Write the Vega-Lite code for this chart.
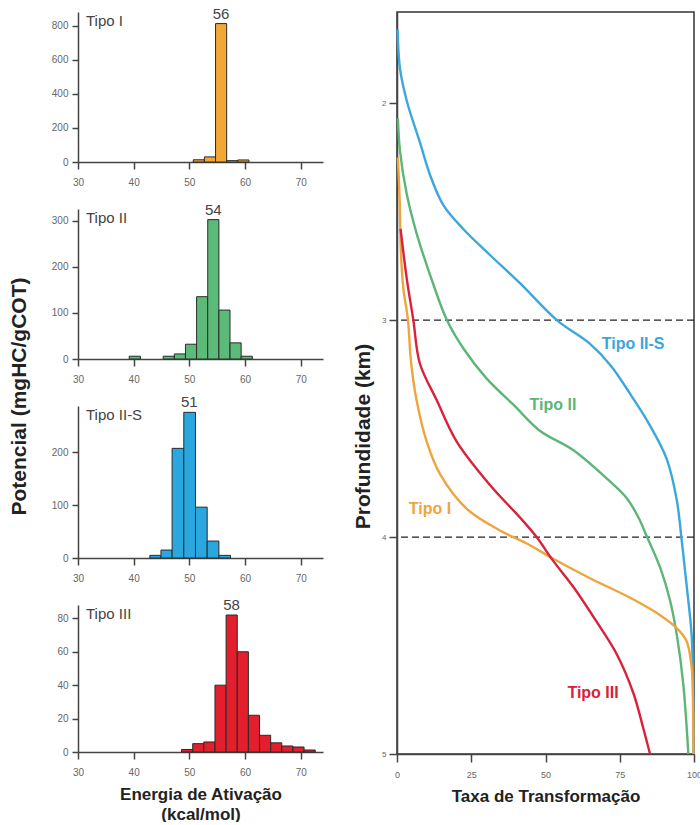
{
  "$schema": "https://vega.github.io/schema/vega-lite/v6.json",
  "padding": {"left": 7, "top": 6, "right": 0, "bottom": 0},
  "background": "white",
  "config": {
    "font": "Liberation Sans",
    "view": {"stroke": null},
    "axis": {
      "grid": false,
      "labelFont": "Liberation Sans",
      "labelColor": "#666",
      "labelFontSize": 10,
      "labelFlush": false,
      "labelOverlap": false,
      "domainColor": "#444",
      "tickColor": "#444",
      "domainWidth": 1.5,
      "tickWidth": 1.5,
      "titleFont": "Liberation Sans",
      "titleFontWeight": "bold",
      "titleColor": "#222"
    }
  },
  "datasets": {
    "hist": [
      {"tipo": "Tipo I", "lo": 50.7, "hi": 52.7, "v": 13},
      {"tipo": "Tipo I", "lo": 52.7, "hi": 54.7, "v": 30},
      {"tipo": "Tipo I", "lo": 54.7, "hi": 56.7, "v": 812, "peak": "56"},
      {"tipo": "Tipo I", "lo": 56.7, "hi": 58.7, "v": 8},
      {"tipo": "Tipo I", "lo": 58.7, "hi": 60.7, "v": 12},
      {"tipo": "Tipo II", "lo": 39.2, "hi": 41.2, "v": 6},
      {"tipo": "Tipo II", "lo": 45.3, "hi": 47.3, "v": 6},
      {"tipo": "Tipo II", "lo": 47.3, "hi": 49.3, "v": 11},
      {"tipo": "Tipo II", "lo": 49.3, "hi": 51.3, "v": 32},
      {"tipo": "Tipo II", "lo": 51.3, "hi": 53.3, "v": 135},
      {"tipo": "Tipo II", "lo": 53.3, "hi": 55.3, "v": 302, "peak": "54"},
      {"tipo": "Tipo II", "lo": 55.3, "hi": 57.3, "v": 106},
      {"tipo": "Tipo II", "lo": 57.3, "hi": 59.3, "v": 35},
      {"tipo": "Tipo II", "lo": 59.3, "hi": 61.3, "v": 6},
      {"tipo": "Tipo II-S", "lo": 42.9, "hi": 44.9, "v": 5},
      {"tipo": "Tipo II-S", "lo": 44.9, "hi": 46.9, "v": 15},
      {"tipo": "Tipo II-S", "lo": 46.9, "hi": 49.0, "v": 207},
      {"tipo": "Tipo II-S", "lo": 49.0, "hi": 51.1, "v": 275, "peak": "51"},
      {"tipo": "Tipo II-S", "lo": 51.1, "hi": 53.2, "v": 96},
      {"tipo": "Tipo II-S", "lo": 53.2, "hi": 55.3, "v": 32},
      {"tipo": "Tipo II-S", "lo": 55.3, "hi": 57.4, "v": 5},
      {"tipo": "Tipo III", "lo": 48.6, "hi": 50.6, "v": 1.5},
      {"tipo": "Tipo III", "lo": 50.6, "hi": 52.6, "v": 5},
      {"tipo": "Tipo III", "lo": 52.6, "hi": 54.6, "v": 6},
      {"tipo": "Tipo III", "lo": 54.6, "hi": 56.6, "v": 40},
      {"tipo": "Tipo III", "lo": 56.6, "hi": 58.6, "v": 82, "peak": "58"},
      {"tipo": "Tipo III", "lo": 58.6, "hi": 60.6, "v": 60},
      {"tipo": "Tipo III", "lo": 60.6, "hi": 62.6, "v": 22},
      {"tipo": "Tipo III", "lo": 62.6, "hi": 64.6, "v": 10},
      {"tipo": "Tipo III", "lo": 64.6, "hi": 66.6, "v": 5.5},
      {"tipo": "Tipo III", "lo": 66.6, "hi": 68.6, "v": 3.6},
      {"tipo": "Tipo III", "lo": 68.6, "hi": 70.6, "v": 3},
      {"tipo": "Tipo III", "lo": 70.6, "hi": 72.6, "v": 1.2}
    ],
    "curves": [
      {"tipo": "Tipo II-S", "x": 0.2, "d": 1.66},
      {"tipo": "Tipo II-S", "x": 1.0, "d": 1.84},
      {"tipo": "Tipo II-S", "x": 3.3, "d": 1.99},
      {"tipo": "Tipo II-S", "x": 7.7, "d": 2.18},
      {"tipo": "Tipo II-S", "x": 11.1, "d": 2.33},
      {"tipo": "Tipo II-S", "x": 15.6, "d": 2.47},
      {"tipo": "Tipo II-S", "x": 22.3, "d": 2.58},
      {"tipo": "Tipo II-S", "x": 31.3, "d": 2.70},
      {"tipo": "Tipo II-S", "x": 41.4, "d": 2.83},
      {"tipo": "Tipo II-S", "x": 53.8, "d": 3.00},
      {"tipo": "Tipo II-S", "x": 65.0, "d": 3.11},
      {"tipo": "Tipo II-S", "x": 72.0, "d": 3.21},
      {"tipo": "Tipo II-S", "x": 78.5, "d": 3.34},
      {"tipo": "Tipo II-S", "x": 84.5, "d": 3.47},
      {"tipo": "Tipo II-S", "x": 90.8, "d": 3.64},
      {"tipo": "Tipo II-S", "x": 94.2, "d": 3.83},
      {"tipo": "Tipo II-S", "x": 95.9, "d": 4.02},
      {"tipo": "Tipo II-S", "x": 97.5, "d": 4.22},
      {"tipo": "Tipo II-S", "x": 99.2, "d": 4.45},
      {"tipo": "Tipo II-S", "x": 99.7, "d": 4.70},
      {"tipo": "Tipo II-S", "x": 99.8, "d": 5.00},
      {"tipo": "Tipo II", "x": 0.3, "d": 2.07},
      {"tipo": "Tipo II", "x": 1.0, "d": 2.22},
      {"tipo": "Tipo II", "x": 3.3, "d": 2.42},
      {"tipo": "Tipo II", "x": 6.6, "d": 2.60},
      {"tipo": "Tipo II", "x": 11.1, "d": 2.79},
      {"tipo": "Tipo II", "x": 16.8, "d": 3.00},
      {"tipo": "Tipo II", "x": 22.3, "d": 3.13},
      {"tipo": "Tipo II", "x": 30.2, "d": 3.27},
      {"tipo": "Tipo II", "x": 39.2, "d": 3.39},
      {"tipo": "Tipo II", "x": 48.1, "d": 3.51},
      {"tipo": "Tipo II", "x": 59.4, "d": 3.60},
      {"tipo": "Tipo II", "x": 70.6, "d": 3.73},
      {"tipo": "Tipo II", "x": 77.3, "d": 3.82},
      {"tipo": "Tipo II", "x": 81.3, "d": 3.91},
      {"tipo": "Tipo II", "x": 84.2, "d": 4.00},
      {"tipo": "Tipo II", "x": 88.6, "d": 4.14},
      {"tipo": "Tipo II", "x": 91.9, "d": 4.29},
      {"tipo": "Tipo II", "x": 94.2, "d": 4.45},
      {"tipo": "Tipo II", "x": 96.4, "d": 4.68},
      {"tipo": "Tipo II", "x": 98.1, "d": 5.00},
      {"tipo": "Tipo I", "x": 0.3, "d": 2.25},
      {"tipo": "Tipo I", "x": 0.9, "d": 2.45},
      {"tipo": "Tipo I", "x": 1.3, "d": 2.68},
      {"tipo": "Tipo I", "x": 2.1, "d": 2.85},
      {"tipo": "Tipo I", "x": 3.7, "d": 3.00},
      {"tipo": "Tipo I", "x": 4.7, "d": 3.19},
      {"tipo": "Tipo I", "x": 6.6, "d": 3.37},
      {"tipo": "Tipo I", "x": 10.0, "d": 3.56},
      {"tipo": "Tipo I", "x": 14.5, "d": 3.71},
      {"tipo": "Tipo I", "x": 23.5, "d": 3.87},
      {"tipo": "Tipo I", "x": 34.7, "d": 3.97},
      {"tipo": "Tipo I", "x": 43.7, "d": 4.03},
      {"tipo": "Tipo I", "x": 52.6, "d": 4.10},
      {"tipo": "Tipo I", "x": 65.0, "d": 4.19},
      {"tipo": "Tipo I", "x": 78.5, "d": 4.28},
      {"tipo": "Tipo I", "x": 88.6, "d": 4.36},
      {"tipo": "Tipo I", "x": 94.2, "d": 4.42},
      {"tipo": "Tipo I", "x": 97.5, "d": 4.48},
      {"tipo": "Tipo I", "x": 99.2, "d": 4.60},
      {"tipo": "Tipo I", "x": 99.7, "d": 4.80},
      {"tipo": "Tipo I", "x": 99.8, "d": 5.00},
      {"tipo": "Tipo III", "x": 1.2, "d": 2.58},
      {"tipo": "Tipo III", "x": 3.3, "d": 2.81},
      {"tipo": "Tipo III", "x": 5.5, "d": 3.00},
      {"tipo": "Tipo III", "x": 7.7, "d": 3.20},
      {"tipo": "Tipo III", "x": 13.4, "d": 3.37},
      {"tipo": "Tipo III", "x": 20.1, "d": 3.56},
      {"tipo": "Tipo III", "x": 31.3, "d": 3.76},
      {"tipo": "Tipo III", "x": 41.4, "d": 3.91},
      {"tipo": "Tipo III", "x": 47.0, "d": 4.00},
      {"tipo": "Tipo III", "x": 52.6, "d": 4.11},
      {"tipo": "Tipo III", "x": 59.4, "d": 4.23},
      {"tipo": "Tipo III", "x": 67.2, "d": 4.39},
      {"tipo": "Tipo III", "x": 74.0, "d": 4.54},
      {"tipo": "Tipo III", "x": 79.6, "d": 4.72},
      {"tipo": "Tipo III", "x": 82.9, "d": 4.88},
      {"tipo": "Tipo III", "x": 85.2, "d": 5.00}
    ],
    "curveLabels": [
      {"tipo": "Tipo II-S", "x": 79.5, "d": 3.11},
      {"tipo": "Tipo II", "x": 52.5, "d": 3.39},
      {"tipo": "Tipo I", "x": 11.1, "d": 3.87},
      {"tipo": "Tipo III", "x": 66.0, "d": 4.72}
    ],
    "dash": [{"d": 3}, {"d": 4}]
  },
  "hconcat": [
    {
      "bounds": "flush",
      "spacing": 47,
      "vconcat": [
        {
          "width": 245, "height": 150,
          "data": {"name": "hist"},
          "transform": [{"filter": "datum.tipo === 'Tipo I'"}],
          "layer": [
            {
              "mark": {"type": "bar", "fill": "#F3A735", "stroke": "#2a2a2a", "strokeWidth": 1},
              "encoding": {
                "x": {"field": "lo", "type": "quantitative", "scale": {"domain": [30, 74], "nice": false, "zero": false}, "axis": {"values": [30, 40, 50, 60, 70], "tickCount": 20, "title": null, "tickSize": 7, "labelPadding": 8, "labelOverlap": false}},
                "x2": {"field": "hi"},
                "y": {"field": "v", "type": "quantitative", "scale": {"domain": [0, 880], "nice": false}, "axis": {"values": [0, 200, 400, 600, 800], "tickCount": 20, "title": null, "tickSize": 6, "labelPadding": 4, "labelOverlap": false}},
                "y2": {"datum": 0}
              }
            },
            {
              "transform": [{"filter": "isValid(datum.peak)"}],
              "mark": {"type": "text", "dx": 5.5, "dy": -2, "baseline": "bottom", "fontSize": 15, "color": "#444"},
              "encoding": {"x": {"field": "lo", "type": "quantitative"}, "y": {"field": "v", "type": "quantitative"}, "text": {"field": "peak"}}
            },
            {
              "transform": [{"filter": "isValid(datum.peak)"}],
              "mark": {"type": "text", "align": "left", "baseline": "alphabetic", "dx": 8, "dy": 14, "fontSize": 15, "color": "#444"},
              "encoding": {"x": {"datum": 30}, "y": {"datum": 880}, "text": {"field": "tipo"}}
            }
          ]
        },
        {
          "width": 245, "height": 150,
          "data": {"name": "hist"},
          "transform": [{"filter": "datum.tipo === 'Tipo II'"}],
          "layer": [
            {
              "mark": {"type": "bar", "fill": "#5DBB7A", "stroke": "#2a2a2a", "strokeWidth": 1},
              "encoding": {
                "x": {"field": "lo", "type": "quantitative", "scale": {"domain": [30, 74], "nice": false, "zero": false}, "axis": {"values": [30, 40, 50, 60, 70], "tickCount": 20, "title": null, "tickSize": 7, "labelPadding": 8, "labelOverlap": false}},
                "x2": {"field": "hi"},
                "y": {"field": "v", "type": "quantitative", "scale": {"domain": [0, 325], "nice": false}, "axis": {"values": [0, 100, 200, 300], "tickCount": 20, "title": null, "tickSize": 6, "labelPadding": 4, "labelOverlap": false}},
                "y2": {"datum": 0}
              }
            },
            {
              "transform": [{"filter": "isValid(datum.peak)"}],
              "mark": {"type": "text", "dx": 5.5, "dy": -2, "baseline": "bottom", "fontSize": 15, "color": "#444"},
              "encoding": {"x": {"field": "lo", "type": "quantitative"}, "y": {"field": "v", "type": "quantitative"}, "text": {"field": "peak"}}
            },
            {
              "transform": [{"filter": "isValid(datum.peak)"}],
              "mark": {"type": "text", "align": "left", "baseline": "alphabetic", "dx": 8, "dy": 14, "fontSize": 15, "color": "#444"},
              "encoding": {"x": {"datum": 30}, "y": {"datum": 325}, "text": {"field": "tipo"}}
            }
          ]
        },
        {
          "width": 245, "height": 152,
          "data": {"name": "hist"},
          "transform": [{"filter": "datum.tipo === 'Tipo II-S'"}],
          "layer": [
            {
              "mark": {"type": "bar", "fill": "#2BA7E0", "stroke": "#2a2a2a", "strokeWidth": 1},
              "encoding": {
                "x": {"field": "lo", "type": "quantitative", "scale": {"domain": [30, 74], "nice": false, "zero": false}, "axis": {"values": [30, 40, 50, 60, 70], "tickCount": 20, "title": null, "tickSize": 7, "labelPadding": 8, "labelOverlap": false}},
                "x2": {"field": "hi"},
                "y": {"field": "v", "type": "quantitative", "scale": {"domain": [0, 287], "nice": false}, "axis": {"values": [0, 100, 200], "tickCount": 20, "title": "Potencial (mgHC/gCOT)", "titleFontSize": 21, "titleX": -49, "titleY": -10, "tickSize": 6, "labelPadding": 4, "labelOverlap": false}},
                "y2": {"datum": 0}
              }
            },
            {
              "transform": [{"filter": "isValid(datum.peak)"}],
              "mark": {"type": "text", "dx": 5.5, "dy": -2, "baseline": "bottom", "fontSize": 15, "color": "#444"},
              "encoding": {"x": {"field": "lo", "type": "quantitative"}, "y": {"field": "v", "type": "quantitative"}, "text": {"field": "peak"}}
            },
            {
              "transform": [{"filter": "isValid(datum.peak)"}],
              "mark": {"type": "text", "align": "left", "baseline": "alphabetic", "dx": 8, "dy": 14, "fontSize": 15, "color": "#444"},
              "encoding": {"x": {"datum": 30}, "y": {"datum": 287}, "text": {"field": "tipo"}}
            }
          ]
        },
        {
          "width": 245, "height": 147,
          "data": {"name": "hist"},
          "transform": [{"filter": "datum.tipo === 'Tipo III'"}],
          "layer": [
            {
              "mark": {"type": "bar", "fill": "#E31E2D", "stroke": "#2a2a2a", "strokeWidth": 1},
              "encoding": {
                "x": {"field": "lo", "type": "quantitative", "scale": {"domain": [30, 74], "nice": false, "zero": false}, "axis": {"values": [30, 40, 50, 60, 70], "tickCount": 20, "title": ["Energia de Ativação", "(kcal/mol)"], "titleFontSize": 17, "titleLineHeight": 20, "titlePadding": 9, "tickSize": 7, "labelPadding": 8, "labelOverlap": false}},
                "x2": {"field": "hi"},
                "y": {"field": "v", "type": "quantitative", "scale": {"domain": [0, 88], "nice": false}, "axis": {"values": [0, 20, 40, 60, 80], "tickCount": 20, "title": null, "tickSize": 6, "labelPadding": 4, "labelOverlap": false}},
                "y2": {"datum": 0}
              }
            },
            {
              "transform": [{"filter": "isValid(datum.peak)"}],
              "mark": {"type": "text", "dx": 5.5, "dy": -2, "baseline": "bottom", "fontSize": 15, "color": "#444"},
              "encoding": {"x": {"field": "lo", "type": "quantitative"}, "y": {"field": "v", "type": "quantitative"}, "text": {"field": "peak"}}
            },
            {
              "transform": [{"filter": "isValid(datum.peak)"}],
              "mark": {"type": "text", "align": "left", "baseline": "alphabetic", "dx": 8, "dy": 14, "fontSize": 15, "color": "#444"},
              "encoding": {"x": {"datum": 30}, "y": {"datum": 88}, "text": {"field": "tipo"}}
            }
          ]
        }
      ]
    },
    {
      "width": 297, "height": 742,
      "view": {"stroke": "#333", "strokeWidth": 1.5},
      "encoding": {
        "y": {"field": "d", "type": "quantitative", "scale": {"domain": [1.58, 5], "reverse": true, "nice": false, "zero": false}, "axis": {"values": [2, 3, 4, 5], "tickCount": 20, "format": "d", "title": "Profundidade (km)", "titleFontSize": 21, "titleX": -24, "titleY": 424, "tickSize": 8, "labelPadding": 3, "labelFontSize": 8, "labelOverlap": false}}
      },
      "layer": [
        {
          "data": {"name": "dash"},
          "mark": {"type": "rule", "strokeDash": [7, 4], "color": "#222", "strokeWidth": 1.3}
        },
        {
          "data": {"name": "curves"},
          "mark": {"type": "line", "strokeWidth": 2.4, "interpolate": "catmull-rom"},
          "encoding": {
            "x": {"field": "x", "type": "quantitative", "scale": {"domain": [0, 100], "nice": false}, "axis": {"values": [0, 25, 50, 75, 100], "tickCount": 20, "title": "Taxa de Transformação", "titleFontSize": 17, "titlePadding": 9, "tickSize": 8, "labelPadding": 8, "labelFontSize": 9, "labelOverlap": false}},
            "color": {"field": "tipo", "type": "nominal", "scale": {"domain": ["Tipo I", "Tipo II", "Tipo II-S", "Tipo III"], "range": ["#EFA43C", "#5DB576", "#3BA7DB", "#D9213A"]}, "legend": null},
            "order": {"field": "d", "type": "quantitative"}
          }
        },
        {
          "data": {"name": "curveLabels"},
          "mark": {"type": "text", "fontSize": 16, "fontWeight": "bold"},
          "encoding": {
            "x": {"field": "x", "type": "quantitative"},
            "text": {"field": "tipo"},
            "color": {"field": "tipo", "type": "nominal", "legend": null}
          }
        }
      ]
    }
  ],
  "spacing": 28
}
